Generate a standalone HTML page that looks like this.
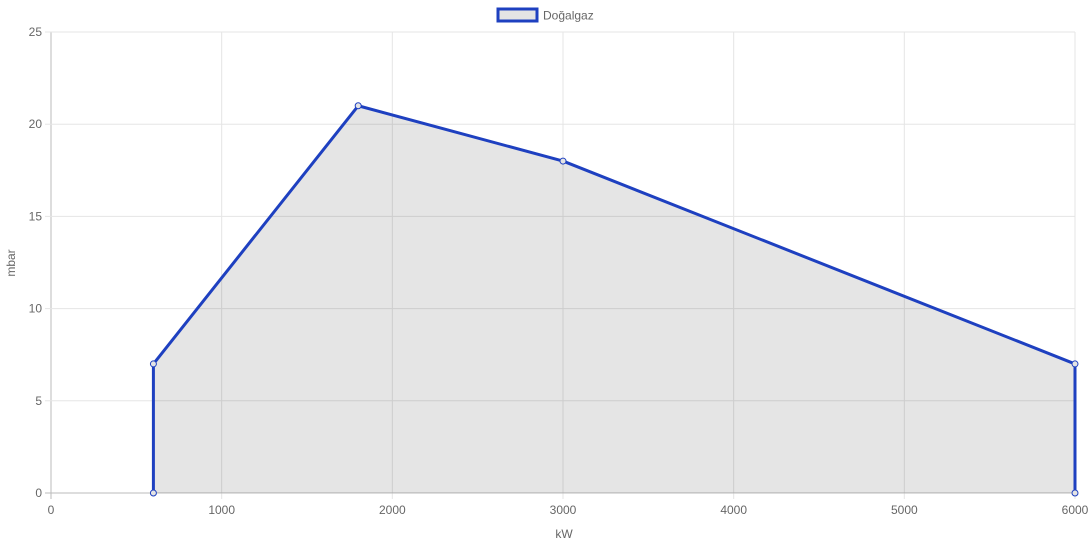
<!DOCTYPE html>
<html><head><meta charset="utf-8"><style>
body{margin:0;background:#fff;font-family:"Liberation Sans",sans-serif}
svg text{font-family:"Liberation Sans",sans-serif;fill:#666;font-size:12px}
</style></head><body>
<svg width="1092" height="546">
<g id="grid"></g>
<g id="ticks"></g>
<path id="area" fill="rgba(0,0,0,0.1)" stroke="none"/>
<path id="line" fill="none" stroke="#1e40c0" stroke-width="3" stroke-linejoin="round"/>
<g id="pts"></g>
<g>
<rect x="498" y="9" width="39" height="12" fill="#e4e4e4" stroke="#1e40c0" stroke-width="3"/>
<text x="543" y="19.5">Doğalgaz</text>
</g>
<text x="564" y="538" text-anchor="middle">kW</text>
<text transform="translate(15,263) rotate(-90)" text-anchor="middle">mbar</text>
</svg>
<script>
const xs=[600,600,1800,3000,6000,6000];
const ys=[0,7,21,18,7,0];
const xTicks=[0,1000,2000,3000,4000,5000,6000];
const yTicks=[0,5,10,15,20,25];
const X0=51,X1=1075,Y0=493,Y1=32;
const sx=v=>X0+(v-0)/(6000)*(X1-X0);
const sy=v=>Y0-(v/25)*(Y0-Y1);
const NS="http://www.w3.org/2000/svg";
const grid=document.getElementById('grid'),ticks=document.getElementById('ticks');
function mk(tag,attrs,parent){const e=document.createElementNS(NS,tag);for(const k in attrs)e.setAttribute(k,attrs[k]);parent.appendChild(e);return e;}
xTicks.forEach(t=>{
 const l=mk('line',{x1:sx(t),x2:sx(t),y1:Y1,y2:Y0+6,stroke:t===0?'#bbb':'#e5e5e5'},grid);
 
 
 const tx=mk('text',{x:sx(t),y:Y0+21,'text-anchor':'middle'},ticks);
 tx.textContent=t;
 
 
});
yTicks.forEach(t=>{
 const l=mk('line',{x1:X0-6,x2:X1,y1:sy(t),y2:sy(t),stroke:t===0?'#bbb':'#e5e5e5'},grid);
 
 
 const tx=mk('text',{x:X0-9,y:sy(t)+4,'text-anchor':'end'},ticks);
 tx.textContent=t;
 
 
});
let d=xs.map((x,i)=>(i?'L':'M')+sx(x)+','+sy(ys[i])).join(' ');
document.getElementById('line').setAttribute('d',d);
document.getElementById('area').setAttribute('d',d+' Z');
const pts=document.getElementById('pts');
xs.forEach((x,i)=>{
 const c=mk('circle',{cx:sx(x),cy:sy(ys[i]),r:3,fill:'#e4e4e4',stroke:'#1e40c0','stroke-width':1},pts);
 
 
});
</script>
</body></html>
